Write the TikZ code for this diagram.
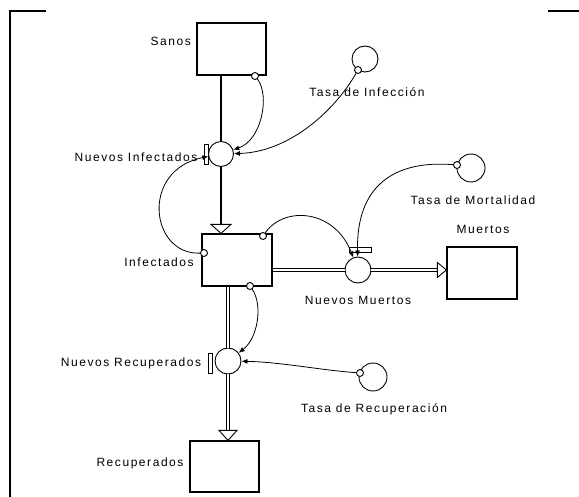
\documentclass[tikz,border=0pt]{standalone}
\usepackage{fontspec}
\setmainfont[LetterSpace=13]{Liberation Sans}
\usetikzlibrary{arrows.meta,calc}
\begin{document}
\begin{tikzpicture}[x=1pt,y=-1pt,
  stock/.style={draw,line width=1.2pt,minimum width=69pt,minimum height=52pt,inner sep=0pt,fill=white},
  valve/.style={draw,circle,line width=0.9pt,inner sep=0pt,minimum size=25pt,fill=white},
  aux/.style={draw,circle,line width=0.9pt,inner sep=0pt,minimum size=27pt,fill=white},
  port/.style={draw,circle,line width=0.9pt,inner sep=0pt,minimum size=7pt,fill=white},
  lbl/.style={font=\fontsize{12}{14}\selectfont,inner sep=0pt},
  info/.style={line width=0.8pt,-{Latex[length=6pt,width=5pt]}},
  pipe/.style={line width=1.6pt},
  dpipe/.style={double,line width=0.8pt,double distance=2.2pt},
  head/.style={draw,line width=0.9pt,fill=white,line join=miter},
  marker/.style={draw,line width=0.8pt,fill=white},
  frame/.style={line width=1.4pt}
]
\useasboundingbox (0,0) rectangle (579,497);
% partial frame
\draw[frame] (46,11) -- (10,11) -- (10,497);
\draw[frame] (548,11) -- (579,11);

% stocks
\node[stock] (san) at (231.5,49) {};
\node[stock,minimum width=70pt] (inf) at (237,260) {};
\node[stock,minimum width=70pt] (mue) at (482,273) {};
\node[stock,minimum height=51pt] (rec) at (224.5,466.5) {};

% valves
\node[valve] (v1) at (221,154) {};
\node[valve,minimum size=26pt] (v2) at (358,270) {};
\node[valve,minimum size=26pt] (v3) at (228,361) {};

% auxiliaries
\node[aux,minimum size=26pt] (ti) at (365,59) {};
\node[aux,minimum size=28pt] (tm) at (471,168) {};
\node[aux,minimum size=28pt] (tr) at (373,377) {};

% pipes
\draw[pipe] (san.south -| v1) -- (v1.north);
\draw[pipe] (v1.south) -- ($(v1 |- inf.north)+(0,-9)$);
\draw[head] (v1 |- inf.north) -- ++(-10,-9) -- ++(20,0) -- cycle;

\draw[dpipe] (inf.east |- v2) -- (v2.west);
\draw[dpipe] (v2.east) -- ($(mue.west |- v2)+(-9,0)$);
\draw[head] (mue.west |- v2) -- ++(-9,-7.5) -- ++(0,15) -- cycle;

\draw[dpipe] (inf.south -| v3) -- (v3.north);
\draw[dpipe] (v3.south) -- ($(v3 |- rec.north)+(0,-10)$);
\draw[head] (v3 |- rec.north) -- ++(-9,-10) -- ++(18,0) -- cycle;

% valve markers
\draw[marker] ($(v1.west)+(-4,-10)$) rectangle ++(4,20);
\draw[marker] ($(v3.west)+(-6,-8)$) rectangle ++(4,20);
\draw[marker] ($(v2.north)+(-9,-9)$) rectangle ++(22,5);

% ports
\node[port] (ps) at (255,76) {};
\node[port] (pti) at (358,70) {};
\node[port] (ptm) at (457,165) {};
\node[port] (ptr) at (360,373) {};
\node[port] (pil) at (204,253) {};
\node[port] (pit) at (263,236) {};
\node[port] (pib) at (250,286) {};

% information connectors
\draw[info] (ps) .. controls (270,95) and (262,140) .. (v1);
\draw[info] (pti) .. controls (335,110) and (290,152) .. (v1);
\draw[info] (pil) .. controls (150,255) and (140,170) .. (v1);
\draw[info] (pit) .. controls (285,205) and (335,210) .. (v2);
\draw[info] (ptm) .. controls (395,160) and (356,185) .. (v2);
\draw[info] (pib) .. controls (263,305) and (258,338) .. (v3);
\draw[info] (ptr) .. controls (320,370) and (280,362) .. (v3);

% labels
\node[lbl,anchor=east] (lsan) at (191,41) {Sanos};
\node[lbl] (lv1) at (136,157) {Nuevos Infectados};
\node[lbl] (linf) at (159,262) {Infectados};
\node[lbl] (lv2) at (358,300) {Nuevos Muertos};
\node[lbl] (lmue) at (483,229) {Muertos};
\node[lbl] (lti) at (367,92) {Tasa de Infección};
\node[lbl] (ltm) at (473,200) {Tasa de Mortalidad};
\node[lbl] (lv3) at (131,363) {Nuevos Recuperados};
\node[lbl] (ltr) at (374,409) {Tasa de Recuperación};
\node[lbl] (lrec) at (140,463) {Recuperados};
\end{tikzpicture}
\end{document}
